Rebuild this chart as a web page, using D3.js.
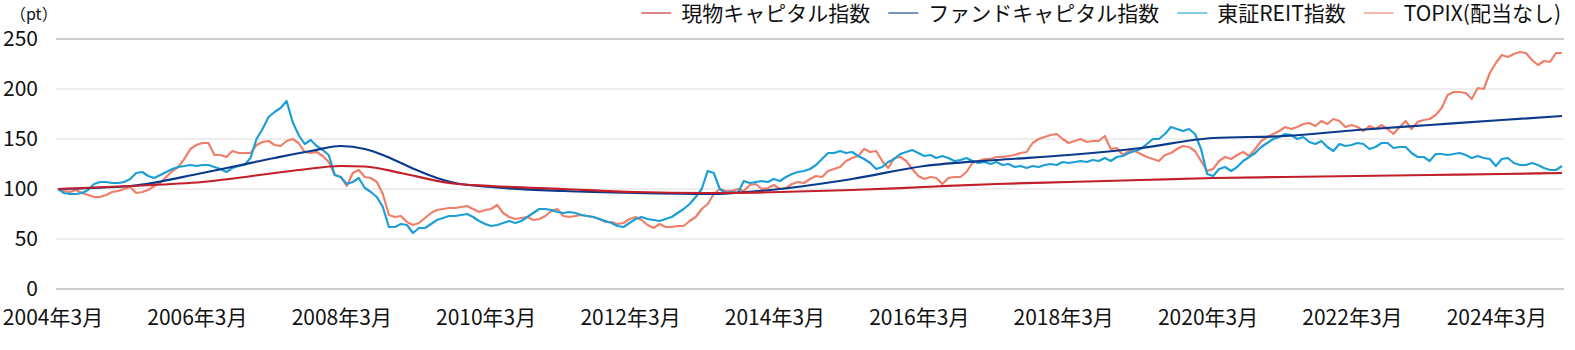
<!DOCTYPE html>
<html><head><meta charset="utf-8">
<script src="https://cdn.jsdelivr.net/npm/d3@7"></script>
<style>body{margin:0;background:#fff}text{font-family:"Noto Sans CJK JP","Noto Sans",sans-serif;fill:#111}</style>
</head><body><svg id="c" width="1575" height="350"></svg>
<script>
// monthly index 0 = 2004年3月 … 250 = 2025年1月
const xTickIdx=[0,24,48,72,96,120,144,168,192,216,240];
const xTickLabels=["2004年3月","2006年3月","2008年3月","2010年3月","2012年3月","2014年3月","2016年3月","2018年3月","2020年3月","2022年3月","2024年3月"];
const yTicks=[0,50,100,150,200,250];
const seriesNames=["現物キャピタル指数","ファンドキャピタル指数","東証REIT指数","TOPIX(配当なし)"];
const seriesColors=["#c21f2b","#0b3a8c","#1d9fd6","#f07f6a"];
const topix=[100,98,97,99,96,94,92,92,94,97,
98,100,102,96,97,99,103,106,112,118,
122,130,140,144,146,146,134,134,132,138,
136,136,136,144,147,148,144,143,148,150,
146,137,136,137,133,127,114,112,103,116,
119,112,111,107,95,74,72,73,67,64,
66,71,76,79,80,81,81,82,83,80,
77,79,80,84,76,72,70,71,72,69,
70,73,78,80,73,72,73,74,73,72,
70,67,67,65,66,70,72,69,64,61,
65,62,62,63,63,68,72,80,85,95,
100,98,98,100,98,104,105,100,101,104,
100,101,105,107,106,110,113,112,118,120,
122,128,131,133,140,137,138,128,121,131,
132,128,120,113,110,112,111,105,111,112,
112,117,126,128,130,130,132,132,133,134,
136,137,146,150,152,154,155,150,146,148,
150,147,148,148,153,140,141,134,138,138,
135,132,130,128,134,136,140,143,142,138,
128,118,120,128,132,130,134,137,133,140,
148,152,155,158,162,160,162,165,166,163,
168,165,170,168,162,164,162,158,163,160,
164,160,155,162,168,160,167,169,170,174,
181,194,197,197,196,190,201,200,216,226,
234,232,235,237,236,229,224,228,227,236,236];
const reit=[100,96,95,95,96,99,105,107,107,106,
106,107,110,116,117,113,111,114,117,120,
122,123,124,123,124,124,122,120,117,121,
123,124,131,150,160,172,177,181,188,167,
154,145,149,143,139,134,114,112,105,107,
111,101,97,92,82,62,62,65,64,56,
61,61,65,69,71,73,73,74,75,72,
68,65,63,64,66,68,66,68,72,76,
80,80,79,77,76,77,76,74,73,72,
70,68,66,63,62,66,70,72,70,69,
68,70,72,76,80,85,92,100,118,116,
100,96,97,96,108,106,107,108,107,110,
108,112,115,117,118,120,124,130,136,136,
138,136,137,133,130,126,120,122,127,130,
135,137,139,136,133,134,131,133,131,128,
129,131,128,126,127,125,127,124,125,122,
123,121,123,122,124,125,124,127,126,127,
128,127,129,128,131,128,132,133,136,138,
140,145,150,150,155,162,160,158,160,155,
140,115,113,120,122,118,122,128,132,136,
142,146,150,152,155,154,150,152,147,145,
148,142,138,145,143,144,146,145,140,142,
146,146,141,142,142,136,132,132,128,135,
135,134,135,136,134,131,133,131,130,123,
130,131,126,124,124,126,124,121,119,119,123];
const fundIdx=[0,12,24,36,42,47,51,54,57,60,63,66,72,84,96,108,120,132,144,156,168,180,192,204,216,228,240,250];
const fundVals=[100,103,116,131,138,143,140,134,126,118,111,106,102,98,96,95,100,110,123,129,134,141,151,153,159,164,169,173];
const genIdx=[0,12,24,40,47,51,57,65,72,84,96,108,120,132,144,156,168,180,192,204,216,228,240,250];
const genVals=[100,103,107,119,123,122.5,116,106,103,100,97,96,97,99,102,105,107,109,111,112,113,114,115,116];

const svg=d3.select("#c");
const x=d3.scaleLinear().domain([0,250]).range([58,1562]);
const y=d3.scaleLinear().domain([0,250]).range([289,39]);

svg.append("g").selectAll("line").data(yTicks).join("line")
 .attr("x1",56).attr("x2",1564).attr("y1",d=>y(d)).attr("y2",d=>y(d))
 .attr("stroke",d=>(d===0||d===250)?"#bdbdbd":"#e8e8e8").attr("stroke-width",1.3);
svg.append("g").selectAll("text").data(yTicks).join("text")
 .attr("x",38).attr("y",d=>y(d)).attr("dy","0.35em").attr("text-anchor","end")
 .attr("font-size",21).text(d=>d);
svg.append("text").attr("x",10).attr("y",14).attr("dy","0.35em").attr("font-size",16).text("（pt）");
svg.append("g").selectAll("text").data(xTickIdx).join("text")
 .attr("x",d=>x(d)-5).attr("y",318).attr("dy","0.35em").attr("text-anchor","middle")
 .attr("font-size",21).text((d,i)=>xTickLabels[i]);

const line=d3.line().x(d=>x(d[0])).y(d=>y(d[1]));
const smooth=d3.line().x(d=>x(d[0])).y(d=>y(d[1])).curve(d3.curveMonotoneX);
const draw=(pts,col,gen)=>svg.append("path").attr("d",gen(pts)).attr("fill","none").attr("stroke",col).attr("stroke-width",2.2).attr("stroke-linejoin","round");
draw(topix.map((v,i)=>[i,v]),seriesColors[3],line);
draw(reit.map((v,i)=>[i,v]),seriesColors[2],line);
draw(fundIdx.map((m,i)=>[m,fundVals[i]]),seriesColors[1],smooth);
draw(genIdx.map((m,i)=>[m,genVals[i]]),seriesColors[0],smooth);

const lg=svg.append("g");
let lx=1561;
for(let i=seriesNames.length-1;i>=0;i--){
  const t=lg.append("text").attr("y",14).attr("dy","0.35em").attr("font-size",21).text(seriesNames[i]);
  const w=t.node().getComputedTextLength();
  const tx=lx-w; t.attr("x",tx);
  lg.append("line").attr("x1",tx-40).attr("x2",tx-10).attr("y1",13).attr("y2",13)
    .attr("stroke",seriesColors[i]).attr("stroke-width",2).attr("stroke-opacity",0.55);
  lx=tx-40-18;
}
</script></body></html>
